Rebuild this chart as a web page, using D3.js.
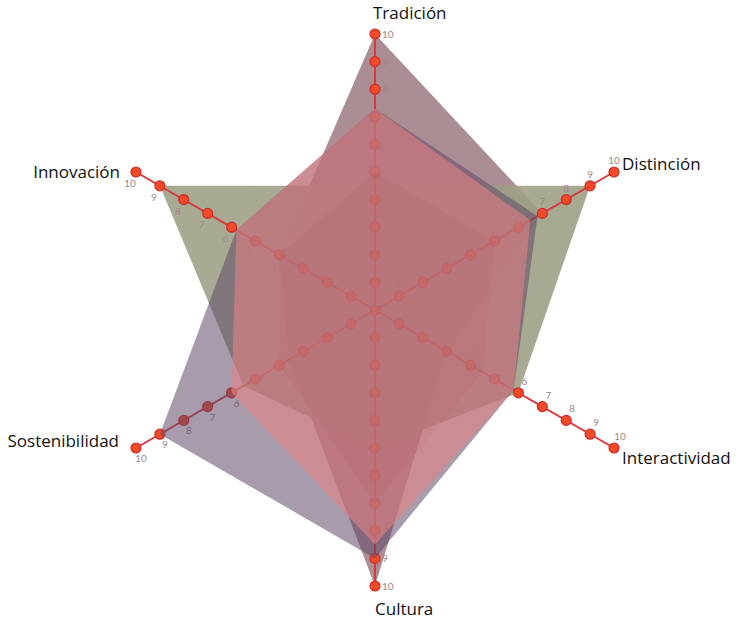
<!DOCTYPE html>
<html>
<head>
<meta charset="utf-8">
<script src="https://cdn.jsdelivr.net/npm/d3@7"></script>
<style>
  body { margin: 0; background: #fff; }
  svg { display: block; }
  .axis-name { font-family: "Open Sans", sans-serif; font-size: 17px; fill: #111; }
  .tick-num { font-family: "Lato", sans-serif; font-size: 10px; fill: #9c8888; }
</style>
</head>
<body>
<svg width="736" height="625"></svg>
<script>
// axes, clockwise from the top
const axes = ['Tradición', 'Distinción', 'Interactividad', 'Cultura', 'Sostenibilidad', 'Innovación'];
const ticks = [1, 2, 3, 4, 5, 6, 7, 8, 9, 10];

// one array per profile, same order as axes
const mauve    = [10, 7, 3, 10, 3.6, 4];
const green    = [4.5, 9, 6, 5, 5.5, 9];
const lavender = [7.3, 6.8, 5.8, 9, 9, 5.8];
const pink     = [7.3, 6.5, 5.8, 8.5, 6, 5.8];
const rose     = [5, 5, 4.5, 7, 4, 4];

const center = { x: 375, y: 310 };
const svg = d3.select('svg');

const r = d3.scaleLinear().domain([0, 10]).range([0, 276]);
const angle = d3.scaleLinear().domain([0, axes.length]).range([-Math.PI / 2, 1.5 * Math.PI]);

function pt(i, v) {
  const a = angle(i);
  return [center.x + r(v) * Math.cos(a), center.y + r(v) * Math.sin(a)];
}

const line = d3.line().curve(d3.curveLinearClosed);

function drawProfile(values, fill, opacity) {
  svg.append('path')
    .attr('d', line(values.map((v, i) => pt(i, v))))
    .attr('fill', fill)
    .attr('fill-opacity', opacity);
}

// mauve and green sit under the axes, the rest over them
const backLayer = svg.append('g').attr('opacity', 0.6);
[[mauve, '#65303a'], [green, '#5e6239']].forEach(function (p) {
  backLayer.append('path')
    .attr('d', line(p[0].map((v, i) => pt(i, v))))
    .attr('fill', p[1])
    .attr('fill-opacity', 0.9);
});

// where the small numbers sit next to each dot, per axis
const numOffset = [
  { dx: 7, dy: 4, anchor: 'start' },
  { dx: 0, dy: -8, anchor: 'middle' },
  { dx: 6, dy: -8, anchor: 'middle' },
  { dx: 7, dy: 4, anchor: 'start' },
  { dx: 5, dy: 14, anchor: 'middle' },
  { dx: -6, dy: 15, anchor: 'middle' }
];

const g = svg.append('g');

// axis lines
g.selectAll('line.axis')
  .data(axes)
  .join('line')
  .attr('class', 'axis')
  .attr('x1', center.x).attr('y1', center.y)
  .attr('x2', (d, i) => pt(i, 10)[0])
  .attr('y2', (d, i) => pt(i, 10)[1])
  .attr('stroke', '#d8393b')
  .attr('stroke-width', 2);

// dots and numbers along each axis
axes.forEach(function (name, i) {
  const ax = g.append('g');
  ax.selectAll('text')
    .data(ticks)
    .join('text')
    .attr('class', 'tick-num')
    .attr('x', d => pt(i, d)[0] + numOffset[i].dx)
    .attr('y', d => pt(i, d)[1] + numOffset[i].dy)
    .attr('text-anchor', numOffset[i].anchor)
    .text(d => d);
  ax.selectAll('circle')
    .data(ticks)
    .join('circle')
    .attr('cx', d => pt(i, d)[0])
    .attr('cy', d => pt(i, d)[1])
    .attr('r', 5)
    .attr('fill', '#f04a26')
    .attr('stroke', '#c92d2d')
    .attr('stroke-width', 1.2);
});
g.append('circle')
  .attr('cx', center.x).attr('cy', center.y).attr('r', 5)
  .attr('fill', '#f04a26').attr('stroke', '#c92d2d').attr('stroke-width', 1.2);

drawProfile(lavender, '#614968', 0.55);
drawProfile(pink, '#e38283', 0.6);
drawProfile(rose, '#b04850', 0.08);

// axis names
const namePos = [
  { x: 373, y: 19, anchor: 'start' },
  { x: 622, y: 170, anchor: 'start' },
  { x: 622, y: 464, anchor: 'start' },
  { x: 375, y: 615, anchor: 'start' },
  { x: 119, y: 447, anchor: 'end' },
  { x: 120, y: 178, anchor: 'end' }
];
svg.append('g')
  .selectAll('text')
  .data(axes)
  .join('text')
  .attr('class', 'axis-name')
  .attr('x', (d, i) => namePos[i].x)
  .attr('y', (d, i) => namePos[i].y)
  .attr('text-anchor', (d, i) => namePos[i].anchor)
  .text(d => d);
</script>
</body>
</html>
